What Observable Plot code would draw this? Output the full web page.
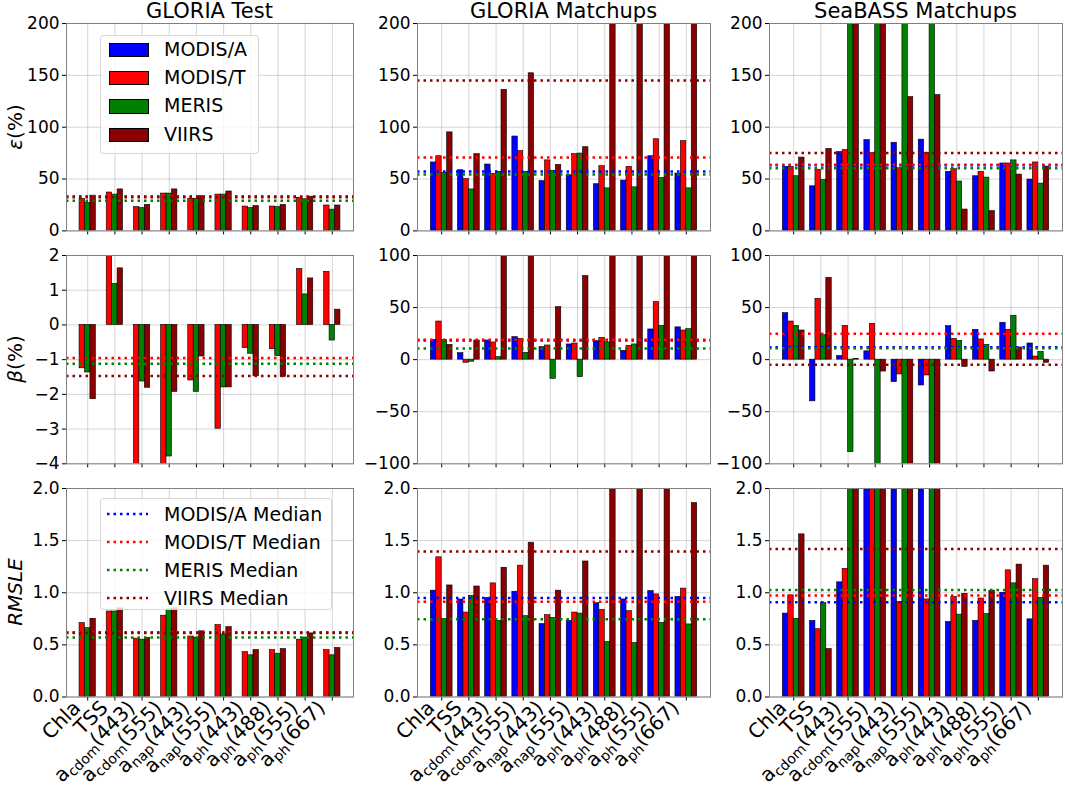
<!DOCTYPE html>
<html><head><meta charset="utf-8">
<script src="https://cdn.jsdelivr.net/npm/d3@7"></script>
<script src="https://cdn.jsdelivr.net/npm/@observablehq/plot@0.6"></script>
<style>
body{margin:0;background:#fff;font-family:"DejaVu Sans",sans-serif;}
#root{position:relative;width:1065px;height:790px;overflow:hidden;background:#fff;}
.abs{position:absolute;white-space:nowrap;color:#000;}
.title{font-size:21px;line-height:21px;transform:translateX(-50%);}
.ylab{font-size:20px;line-height:20px;transform:translate(-50%,-50%) rotate(-90deg);}
.legend{position:absolute;background:rgba(255,255,255,0.8);border:1px solid rgba(204,204,204,0.8);border-radius:4px;}
.legend .txt{position:absolute;font-size:19px;line-height:19px;white-space:nowrap;}
</style></head><body><div id="root"></div>
<script>
// ---------- data ----------
const categories = ["Chla","TSS","a_{cdom}(443)","a_{cdom}(555)","a_{nap}(443)","a_{nap}(555)","a_{ph}(443)","a_{ph}(488)","a_{ph}(555)","a_{ph}(667)"];
const sensors = ["MODIS/A","MODIS/T","MERIS","VIIRS"];
const sensorColors = ["#0000ff","#ff0000","#008000","#8b0000"];
const columnTitles = ["GLORIA Test","GLORIA Matchups","SeaBASS Matchups"];
const rowLabels = [["ε","(%)"],["β","(%)"],["RMSLE",""]];

// epsilon (%) ; order MODIS/A, MODIS/T, MERIS, VIIRS ; bars beyond the axis are clipped
const epsTest = [null,
  [31,37,23,36,31,35,23.5,23.5,32,24.5],
  [27,35,22,36,31,35,22,23,30.5,20.5],
  [34,40,25,40,33.5,38,24,25,33,24.5]];
const epsTestMedian = [null, 33.5, 29, 32.5];
const epsGloria = [
  [66,58.5,64,91,48,53.7,45,48.5,72,55.3],
  [72,50,55,77,68,74,62.4,61.7,88.4,86.5],
  [56,40,57,57,58,74.6,41,42,51,41],
  [95,74,136,152,63.6,80.7,260,260,260,260]];
const epsGloriaMedian = [57.2, 70.7, 54.5, 145];
const epsSeabass = [
  [61.7,43,76,87.5,85,88,57,52.7,65,49.5],
  [61.7,59,78,75,60.4,75,59.5,57,65,66],
  [52.7,49,260,260,260,260,47.6,51.4,68,45.6],
  [70.7,79,260,260,129,131,20.6,19,54.3,62]];
const epsSeabassMedian = [63.3, 63.7, 60.4, 75.2];

// beta (%)
const betaTest = [null,
  [-1.25,2.1,-4.5,-4.5,-1.6,-2.99,-0.67,-0.7,1.61,1.53],
  [-1.37,1.18,-1.63,-3.79,-1.93,-1.8,-0.83,-0.9,0.88,-0.45],
  [-2.14,1.63,-1.81,-1.93,-0.91,-1.8,-1.48,-1.5,1.34,0.44]];
const betaTestMedian = [null, -0.95, -1.12, -1.47];
const betaGloria = [
  [19,6.2,18.4,21.6,12,14.6,17.8,8.5,29,31],
  [36.6,-3,16.5,20,13.6,15.5,21,13.3,55.2,28],
  [19,-2,2.4,6.6,-18.4,-16.8,16.5,14.6,32.5,29.3],
  [14.2,18.4,130,130,50.4,80.2,130,130,130,130]];
const betaGloriaMedian = [18.5, 19, 10.8, null];
const betaSeabass = [
  [44.6,-40,3.4,8,-21.6,-24.8,32.2,28.6,35.4,15.5],
  [36.6,58.4,32.5,34.4,-14.2,-15.2,20,19.4,28.6,3],
  [32.5,23.5,-88.8,-130,-130,-130,18,14.2,42,7.5],
  [28,78.6,0.8,-11.4,-130,-130,-6.9,-11.4,11.7,-3]];
const betaSeabassMedian = [12, 24.8, 11, -5];

// RMSLE
const rmsleTest = [null,
  [0.71,0.82,0.56,0.78,0.58,0.69,0.43,0.45,0.55,0.45],
  [0.66,0.82,0.55,0.84,0.57,0.6,0.4,0.415,0.57,0.4],
  [0.75,0.85,0.565,0.85,0.63,0.67,0.45,0.46,0.61,0.47]];
const rmsleTestMedian = [null, 0.62, 0.57, 0.615];
const rmsleGloria = [
  [1.02,0.935,0.95,1.01,0.70,0.73,0.90,0.936,1.016,0.96],
  [1.34,0.81,1.09,1.26,0.785,0.81,0.837,0.824,0.984,1.04],
  [0.75,0.97,0.73,0.775,0.76,0.80,0.527,0.517,0.712,0.696],
  [1.07,1.06,1.24,1.48,1.02,1.30,2.5,2.5,2.5,1.86]];
const rmsleGloriaMedian = [0.95, 0.913, 0.746, 1.395];
const rmsleSeabass = [
  [0.8,0.73,1.1,2.5,2.5,2.5,0.72,0.73,1.0,0.745],
  [0.975,0.65,1.23,2.5,0.913,0.936,0.96,0.945,1.215,1.13],
  [0.75,0.9,2.5,2.5,2.5,2.5,0.79,0.795,1.09,0.95],
  [1.56,0.46,2.5,2.5,2.5,2.5,0.99,1.02,1.27,1.26]];
const rmsleSeabassMedian = [0.91, 0.974, 1.026, 1.42];

const epsTicks = [0,50,100,150,200];
const betaTestTicks = [-4,-3,-2,-1,0,1,2];
const betaTicks = [-100,-50,0,50,100];
const rmsleTicks = [0,0.5,1,1.5,2];

// ---------- layout ----------
const colX = [[66,353],[417,710],[769,1062]];
const rowY = [[23.3,230.7],[255,463.3],[487.5,696]];
const root = document.getElementById("root");
const idx = categories.map((_, i) => i);

const panels = [
  {r:0,c:0,values:epsTest,medians:epsTestMedian,ticks:epsTicks,fmt:"d"},
  {r:0,c:1,values:epsGloria,medians:epsGloriaMedian,ticks:epsTicks,fmt:"d"},
  {r:0,c:2,values:epsSeabass,medians:epsSeabassMedian,ticks:epsTicks,fmt:"d"},
  {r:1,c:0,values:betaTest,medians:betaTestMedian,ticks:betaTestTicks,fmt:"d"},
  {r:1,c:1,values:betaGloria,medians:betaGloriaMedian,ticks:betaTicks,fmt:"d"},
  {r:1,c:2,values:betaSeabass,medians:betaSeabassMedian,ticks:betaTicks,fmt:"d"},
  {r:2,c:0,values:rmsleTest,medians:rmsleTestMedian,ticks:rmsleTicks,fmt:".1f"},
  {r:2,c:1,values:rmsleGloria,medians:rmsleGloriaMedian,ticks:rmsleTicks,fmt:".1f"},
  {r:2,c:2,values:rmsleSeabass,medians:rmsleSeabassMedian,ticks:rmsleTicks,fmt:".1f"}
];

function subscriptify(svg) {
  svg.querySelectorAll('g[aria-label="text"] text').forEach(t => {
    const s = t.textContent;
    const m = s.match(/^(.*)_\{(.*)\}(.*)$/);
    if (!m) return;
    while (t.firstChild) t.removeChild(t.firstChild);
    const ns = "http://www.w3.org/2000/svg";
    const a = document.createElementNS(ns, "tspan"); a.textContent = m[1]; t.appendChild(a);
    const b = document.createElementNS(ns, "tspan"); b.textContent = m[2];
    b.setAttribute("font-size", "14"); b.setAttribute("dy", "4"); t.appendChild(b);
    const c = document.createElementNS(ns, "tspan"); c.textContent = m[3];
    c.setAttribute("dy", "-4"); t.appendChild(c);
  });
}

function drawPanel(p) {
  const [x0, x1] = colX[p.c], [y0, y1] = rowY[p.r];
  const present = sensors.map((s, k) => k).filter(k => p.values[k]);
  const m = present.length, w = 0.2;
  const bars = [];
  present.forEach((k, j) => {
    const off = (j - (m - 1) / 2) * w;
    p.values[k].forEach((v, i) => bars.push({i, x1: i + off - w / 2, x2: i + off + w / 2, v, sensor: sensors[k]}));
  });
  const lo = -m * w / 2, hi = categories.length - 1 + m * w / 2, pad = 0.05 * (hi - lo);
  const meds = p.medians.map((v, k) => ({v, sensor: sensors[k]})).filter(d => d.v != null);
  const bottom = p.r === 2;
  const ML = 60, MR = 6, MT = 6, MB = bottom ? 90 : 6;
  const marks = [
    Plot.ruleY(p.ticks, {stroke: "#b0b0b0", strokeOpacity: 0.6, strokeWidth: 0.9}),
    Plot.ruleX(idx, {stroke: "#b0b0b0", strokeOpacity: 0.6, strokeWidth: 0.9}),
    Plot.rect(bars, {x1: "x1", x2: "x2", y1: () => 0, y2: "v", fill: "sensor", stroke: "black", strokeWidth: 0.6, clip: true}),
    Plot.ruleY(meds, {y: "v", stroke: "sensor", strokeWidth: 2.5, strokeDasharray: "2.5,4", clip: true}),
    Plot.frame({stroke: "#808080", strokeWidth: 1})
  ];
  if (bottom) marks.push(Plot.text(idx, {x: d => d, text: d => categories[d], frameAnchor: "bottom", dx: -6, dy: 12,
    rotate: -45, textAnchor: "end", lineAnchor: "bottom", fontSize: 20}));
  const svg = Plot.plot({
    width: (x1 - x0) + ML + MR, height: (y1 - y0) + MT + MB,
    marginLeft: ML, marginRight: MR, marginTop: MT, marginBottom: MB,
    style: {background: "transparent", overflow: "visible", fontFamily: "DejaVu Sans", fontSize: "17px", color: "black"},
    x: {domain: [lo - pad, hi + pad], ticks: idx, tickFormat: () => "", tickSize: 4, label: null},
    y: {domain: [p.ticks[0], p.ticks[p.ticks.length - 1]], ticks: p.ticks, tickFormat: d3.format(p.fmt), tickSize: 4, tickPadding: 3, label: null},
    color: {domain: sensors, range: sensorColors},
    marks
  });
  if (bottom) subscriptify(svg);
  svg.style.position = "absolute";
  svg.style.left = (x0 - ML) + "px";
  svg.style.top = (y0 - MT) + "px";
  root.appendChild(svg);
}
panels.forEach(drawPanel);

// column titles
columnTitles.forEach((t, c) => {
  const d = document.createElement("div");
  d.className = "abs title"; d.textContent = t;
  d.style.left = ((colX[c][0] + colX[c][1]) / 2) + "px"; d.style.top = "1px";
  root.appendChild(d);
});
// row labels
rowLabels.forEach(([sym, rest], r) => {
  const d = document.createElement("div");
  d.className = "abs ylab";
  d.innerHTML = `<span style="font-style:italic">${sym}</span>${rest}`;
  d.style.left = "15px"; d.style.top = ((rowY[r][0] + rowY[r][1]) / 2) + "px";
  root.appendChild(d);
});

// legend 1: bar patches
{
  const L = document.createElement("div");
  L.className = "legend";
  Object.assign(L.style, {left: "100px", top: "35px", width: "157px", height: "117px"});
  sensors.forEach((s, k) => {
    const cy = 13.3 + 28.3 * k;
    const p = document.createElement("div");
    Object.assign(p.style, {position: "absolute", left: "8px", top: (cy - 6.7) + "px", width: "38px", height: "12.5px",
      background: sensorColors[k], border: "0.6px solid #000"});
    L.appendChild(p);
    const t = document.createElement("div");
    t.className = "txt"; t.textContent = s;
    Object.assign(t.style, {left: "63px", top: (cy - 9.5) + "px"});
    L.appendChild(t);
  });
  root.appendChild(L);
}
// legend 2: median lines
{
  const L = document.createElement("div");
  L.className = "legend";
  Object.assign(L.style, {left: "100px", top: "498px", width: "230px", height: "110px"});
  sensors.forEach((s, k) => {
    const cy = 15.3 + 28 * k;
    const ns = "http://www.w3.org/2000/svg";
    const sv = document.createElementNS(ns, "svg");
    sv.setAttribute("width", "42"); sv.setAttribute("height", "6");
    Object.assign(sv.style, {position: "absolute", left: "6px", top: (cy - 3) + "px"});
    const ln = document.createElementNS(ns, "line");
    ln.setAttribute("x1", 0); ln.setAttribute("x2", 41); ln.setAttribute("y1", 3); ln.setAttribute("y2", 3);
    ln.setAttribute("stroke", sensorColors[k]); ln.setAttribute("stroke-width", 2.5); ln.setAttribute("stroke-dasharray", "2.5,4");
    sv.appendChild(ln); L.appendChild(sv);
    const t = document.createElement("div");
    t.className = "txt"; t.textContent = s + " Median";
    Object.assign(t.style, {left: "63px", top: (cy - 9.5) + "px"});
    L.appendChild(t);
  });
  root.appendChild(L);
}
</script></body></html>
